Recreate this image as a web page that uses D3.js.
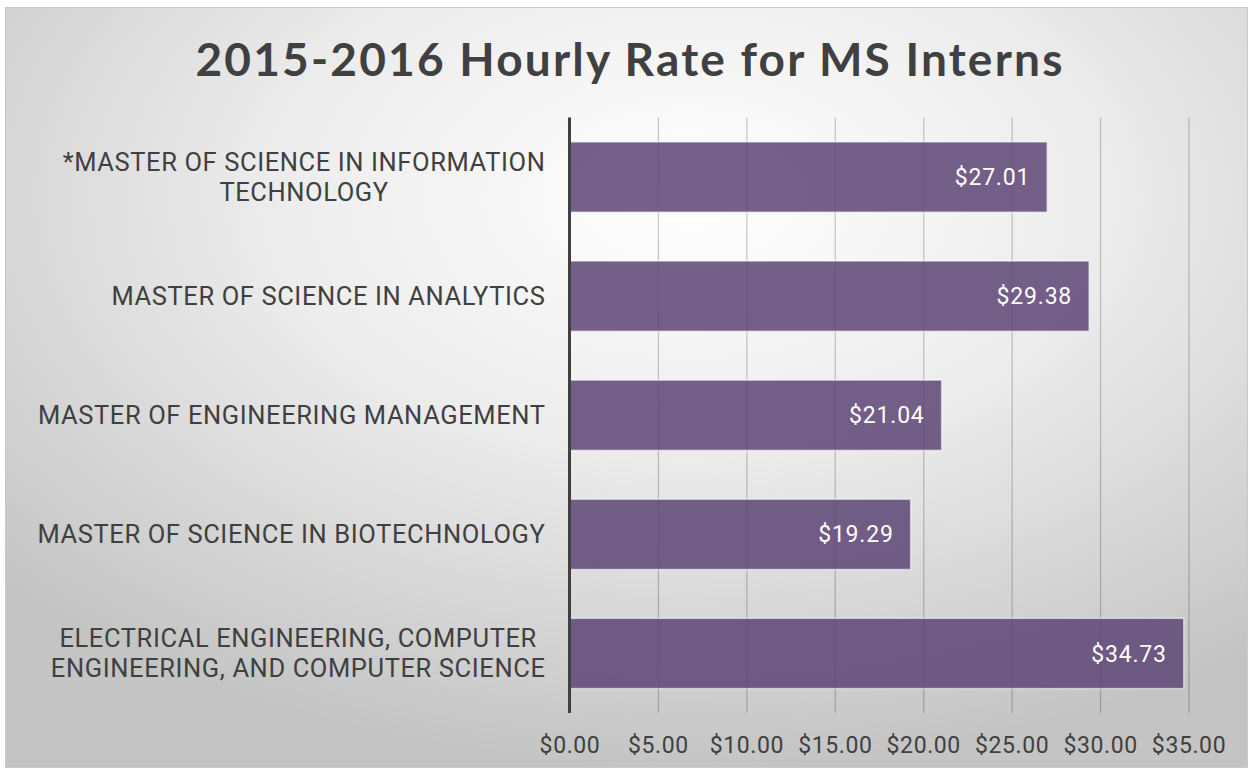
<!DOCTYPE html>
<html>
<head>
<meta charset="utf-8">
<script src="https://cdn.jsdelivr.net/npm/d3@7"></script>
<style>
  body { margin: 0; background: #fff; }
  svg { display: block; }
</style>
</head>
<body>
<svg id="chart"></svg>
<script>
// data
const categories = [
    '*MASTER OF SCIENCE IN INFORMATION|TECHNOLOGY',
    'MASTER OF SCIENCE IN ANALYTICS',
    'MASTER OF ENGINEERING MANAGEMENT',
    'MASTER OF SCIENCE IN BIOTECHNOLOGY',
    'ELECTRICAL ENGINEERING, COMPUTER|ENGINEERING, AND COMPUTER SCIENCE'
];
const values = [27.01, 29.38, 21.04, 19.29, 34.73];
const tickValues = [0, 5, 10, 15, 20, 25, 30, 35];
const title = '2015-2016 Hourly Rate for MS Interns';

const W = 1252, H = 771;
const margin = { top: 117.5, bottom: 58, left: 569.5, right: 63.5 };

const svg = d3.select('#chart')
    .attr('width', W)
    .attr('height', H);

// background gradient
const defs = svg.append('defs');
const grad = defs.append('radialGradient')
    .attr('id', 'bg')
    .attr('cx', '55%').attr('cy', '25%').attr('r', '75%');
grad.append('stop').attr('offset', '0%').attr('stop-color', '#ffffff');
grad.append('stop').attr('offset', '45%').attr('stop-color', '#ececec');
grad.append('stop').attr('offset', '100%').attr('stop-color', '#c4c4c4');

svg.append('rect')
    .attr('x', 5.5).attr('y', 7.5)
    .attr('width', 1242).attr('height', 760)
    .attr('fill', 'url(#bg)')
    .attr('stroke', '#c8c8c8');

svg.append('text')
    .attr('x', 630)
    .attr('y', 76)
    .attr('text-anchor', 'middle')
    .attr('font-family', 'Lato, sans-serif')
    .attr('font-weight', 'bold')
    .attr('font-size', 46)
    .attr('letter-spacing', 2.2)
    .attr('fill', '#404040')
    .text(title);

const width = W - margin.left - margin.right;
const height = H - margin.top - margin.bottom;

const chart = svg.append('g')
    .attr('transform', `translate(${margin.left},${margin.top})`);

const xScale = d3.scaleLinear()
    .domain([0, 35])
    .range([0, width]);

const yScale = d3.scaleBand()
    .domain(categories)
    .range([0, height])
    .paddingInner(0.41)
    .paddingOuter(0.205);

// gridlines + ticks
const xAxis = d3.axisBottom(xScale)
    .tickValues(tickValues)
    .tickSize(height)
    .tickPadding(24)
    .tickFormat(d => '$' + d.toFixed(2));

const xAxisG = chart.append('g')
    .call(xAxis)
    .call(g => g.select('.domain').remove());

xAxisG.selectAll('.tick line')
    .attr('stroke', 'rgba(0,0,0,0.2)')
    .attr('stroke-width', 1.3);
xAxisG.selectAll('.tick text')
    .attr('font-family', 'Roboto, sans-serif')
    .attr('font-size', 23)
    .attr('letter-spacing', 0.6)
    .attr('fill', '#404040');

// bars
chart.selectAll('rect.bar')
    .data(values)
    .join('rect')
    .attr('class', 'bar')
    .attr('x', 0)
    .attr('y', (d, i) => yScale(categories[i]))
    .attr('width', d => xScale(d))
    .attr('height', yScale.bandwidth())
    .attr('fill', '#5e4677')
    .attr('fill-opacity', 0.86)
    .attr('stroke', 'rgba(255,255,255,0.55)')
    .attr('stroke-width', 1.5);

// value labels
chart.selectAll('text.val')
    .data(values)
    .join('text')
    .attr('class', 'val')
    .attr('x', d => xScale(d) - 17)
    .attr('y', (d, i) => yScale(categories[i]) + yScale.bandwidth() / 2)
    .attr('dy', '0.35em')
    .attr('text-anchor', 'end')
    .attr('font-family', 'Roboto, sans-serif')
    .attr('font-size', 23)
    .attr('letter-spacing', 0.8)
    .attr('fill', '#ffffff')
    .text(d => '$' + d.toFixed(2));

// y axis line
chart.append('line')
    .attr('x1', 0).attr('x2', 0)
    .attr('y1', 0).attr('y2', height)
    .attr('stroke', '#404040')
    .attr('stroke-width', 3);

// category labels
const labelG = chart.append('g');
categories.forEach(c => {
    const lines = c.split('|');
    const cy = yScale(c) + yScale.bandwidth() / 2;
    const t = labelG.append('text')
        .attr('font-family', 'Roboto, sans-serif')
        .attr('font-size', 25.5)
        .attr('letter-spacing', 0.6)
        .attr('fill', '#404040')
        .attr('text-anchor', 'middle');
    lines.forEach((ln, j) => {
        t.append('tspan')
            .attr('x', 0)
            .attr('y', cy + (j - (lines.length - 1) / 2) * 30)
            .attr('dy', '0.35em')
            .text(ln);
    });
    const w = t.node().getBBox().width;
    t.selectAll('tspan').attr('x', -24 - w / 2);
});
</script>
</body>
</html>
